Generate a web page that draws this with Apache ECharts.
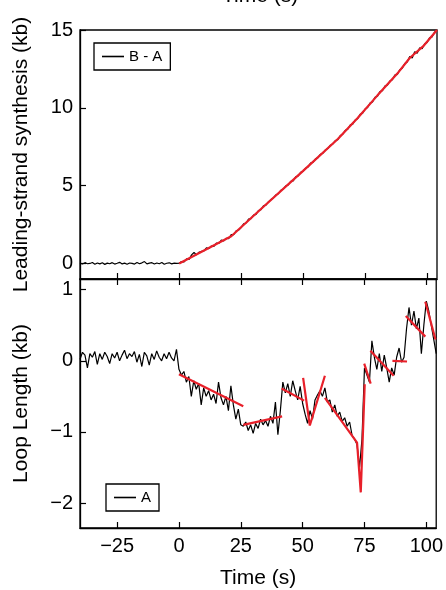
<!DOCTYPE html>
<html>
<head>
<meta charset="utf-8">
<script src="https://cdn.jsdelivr.net/npm/echarts@6/dist/echarts.min.js"></script>
<style>
  html, body { margin: 0; padding: 0; background: #fff; }
  #chart { width: 446px; height: 590px; }
</style>
</head>
<body>
<div id="chart"></div>
<script>
// sampling of the traces (s)
const tStart = -40;
const tStep = 1;

// leading-strand synthesis, B - A (kb), one value per second from -40 s
const synthBA = [
  0.02, -0.04, 0.05, -0.02, 0.0, 0.06, -0.05, 0.03, -0.03, 0.04,
  -0.06, 0.02, -0.02, 0.05, -0.04, 0.01, 0.07, -0.03, 0.02, -0.05,
  0.03, 0.0, -0.04, 0.06, -0.02, 0.04, 0.12, -0.03, 0.02, 0.05,
  -0.04, 0.03, -0.02, 0.06, -0.05, 0.01, 0.04, -0.03, 0.02, 0.0,
  0.02, 0.12, 0.1, 0.3, 0.25, 0.55, 0.7, 0.55, 0.72, 0.78,
  0.8, 1.0, 0.95, 1.12, 1.1, 1.3, 1.28, 1.5, 1.45, 1.62,
  1.6, 1.85, 1.85, 2.1, 2.15, 2.3, 2.55, 2.6, 2.85, 2.88,
  3.1, 3.15, 3.4, 3.45, 3.7, 3.75, 3.95, 4.1, 4.2, 4.4,
  4.48, 4.7, 4.78, 4.98, 5.05, 5.28, 5.3, 5.56, 5.62, 5.85,
  5.92, 6.12, 6.2, 6.45, 6.5, 6.72, 6.8, 7.02, 7.08, 7.3,
  7.38, 7.6, 7.68, 7.9, 7.95, 8.22, 8.3, 8.55, 8.62, 8.9,
  8.95, 9.22, 9.3, 9.58, 9.66, 9.92, 10.02, 10.3, 10.38, 10.68,
  10.75, 11.05, 11.1, 11.4, 11.45, 11.72, 11.8, 12.1, 12.15, 12.45,
  12.55, 12.85, 12.95, 13.3, 13.2, 13.6, 13.5, 13.85, 13.8, 14.1,
  14.2, 14.5, 14.55, 14.85, 14.98
];

// loop length, A (kb), one value per second from -40 s
const loopA = [
  0.02, 0.12, 0.08, -0.1, 0.1, 0.05, 0.13, -0.05, 0.1, 0.02,
  0.12, 0.06, -0.04, 0.1, 0.04, 0.12, 0.0, 0.08, 0.15, 0.03,
  0.1, 0.06, 0.13, -0.02, 0.09, -0.08, 0.12, 0.07, -0.06, 0.1,
  0.02, 0.14, 0.05, 0.0, 0.1, 0.03, 0.12, 0.04, 0.0, 0.16,
  -0.12, -0.2, -0.15, -0.3, -0.22, -0.5, -0.28, -0.4, -0.32, -0.62,
  -0.38, -0.5, -0.42, -0.55, -0.47, -0.6, -0.3, -0.52, -0.62, -0.5,
  -0.7, -0.35, -0.62, -0.82, -0.68, -0.9, -0.92, -0.86, -0.98, -0.9,
  -1.02, -0.88, -0.95, -0.82, -0.9, -0.84, -0.92, -0.78, -0.88, -0.58,
  -1.04, -0.7, -0.3, -0.45, -0.32, -0.5, -0.28, -0.42, -0.55, -0.36,
  -0.6, -0.75, -0.88, -0.7, -0.82, -0.55, -0.48, -0.42, -0.5, -0.38,
  -0.58, -0.55, -0.72, -0.62, -0.78, -0.72, -0.85, -0.8, -0.92, -0.86,
  -1.05, -1.1, -1.18, -1.5, -1.1, -0.1, -0.2, -0.3, 0.28, 0.05,
  -0.12, 0.1, -0.15, 0.08, -0.1, -0.3, -0.1, -0.2, 0.05, 0.18,
  -0.02, 0.05, 0.45, 0.75, 0.5, 0.7, 0.45, 0.6, 0.1, 0.5,
  0.84, 0.7, 0.5, 0.3, 0.1
];

// red fitted lines [t, kb]
const synthFit = [[0, 0], [21, 1.75], [33, 3.5], [50, 5.95], [64, 8.0], [72, 9.35], [80, 10.8], [88, 12.2], [93, 13.2], [98.7, 14.0], [104, 15.0]];
const loopFits = [
  [[0, -0.19], [26, -0.64]],
  [[26, -0.9], [41.7, -0.78]],
  [[41.5, -0.39], [50.6, -0.56]],
  [[50.2, -0.24], [52.9, -0.91], [59, -0.21]],
  [[59, -0.52], [72, -1.15], [73.5, -1.85], [75.1, -0.33]],
  [[74.9, -0.04], [77.5, -0.32]],
  [[77.4, 0.14], [86.8, -0.21]],
  [[86.3, 0.0], [92.2, -0.01]],
  [[91.7, 0.63], [99.6, 0.34]],
  [[99.6, 0.83], [103.7, 0.3]]
];

const xTicks = [-25, 0, 25, 50, 75, 100];
const synthTicks = [0, 5, 10, 15];
const loopTicks = [-2, -1, 0, 1];

const font = "'Liberation Sans', Arial, sans-serif";
const black = "#000";
const red = "#e8202a";

function toPairs(values) {
  return values.map((v, i) => [tStart + i * tStep, v]);
}
function minus(v) {
  return String(v).replace("-", "\u2212");
}

const chart = echarts.init(document.getElementById("chart"));

function xAxisFor(gridIndex, position, showLabel, name) {
  return {
    type: "value",
    gridIndex: gridIndex,
    position: position,
    min: -40,
    max: 104,
    name: name,
    nameLocation: "middle",
    nameGap: 40,
    nameTextStyle: { color: black, fontSize: 21, fontFamily: font },
    axisLine: { show: true, onZero: false, lineStyle: { color: black, width: 1.3 } },
    axisTick: { show: true, inside: true, length: 6, customValues: xTicks, lineStyle: { color: black, width: 1.2 } },
    axisLabel: { show: showLabel, customValues: xTicks, color: black, fontSize: 20, fontFamily: font, margin: 8, formatter: minus },
    splitLine: { show: false }
  };
}

function yAxisFor(gridIndex, min, max, ticks, name) {
  return {
    type: "value",
    gridIndex: gridIndex,
    min: min,
    max: max,
    name: name,
    nameLocation: "middle",
    nameGap: 48,
    nameTextStyle: { color: black, fontSize: 21, fontFamily: font },
    axisLine: { show: true, onZero: false, lineStyle: { color: black, width: 1.3 } },
    axisTick: { show: true, inside: true, length: 6, customValues: ticks, lineStyle: { color: black, width: 1.2 } },
    axisLabel: { customValues: ticks, color: black, fontSize: 20, fontFamily: font, margin: 7, formatter: minus },
    splitLine: { show: false }
  };
}

function legendAt(name, left, top) {
  return {
    data: [{ name: name, icon: "rect" }],
    left: left,
    top: top,
    orient: "vertical",
    padding: [6, 8, 6, 8],
    itemWidth: 22,
    itemHeight: 1.6,
    borderColor: black,
    borderWidth: 1.3,
    borderRadius: 0,
    textStyle: { color: black, fontSize: 15, fontFamily: font }
  };
}

const fitSeries = loopFits.map(seg => ({
  type: "line",
  xAxisIndex: 1,
  yAxisIndex: 1,
  symbol: "none",
  silent: true,
  z: 5,
  lineStyle: { color: red, width: 2.2 },
  data: seg
}));

const option = {
  animation: false,
  backgroundColor: "#fff",
  grid: [
    { left: 80, right: 9, top: 30, height: 249, show: true, borderColor: black, borderWidth: 1.3, backgroundColor: "transparent" },
    { left: 80, right: 9, top: 279, height: 250, show: true, borderColor: black, borderWidth: 1.3, backgroundColor: "transparent" }
  ],
  graphic: [
    {
      type: "text",
      left: 222,
      top: -14,
      style: { text: "Time (s)", font: "21px " + font, fill: black }
    }
  ],
  legend: [legendAt("B - A", 94, 43), legendAt("A", 106, 484)],
  xAxis: [
    xAxisFor(0, "bottom", false, ""),
    xAxisFor(1, "bottom", true, "Time (s)"),
    Object.assign(xAxisFor(1, "top", false, ""), { axisLine: { show: false, onZero: false } })
  ],
  yAxis: [
    yAxisFor(0, -1, 15, synthTicks, "Leading-strand synthesis (kb)"),
    yAxisFor(1, -2.35, 1.15, loopTicks, "Loop Length (kb)")
  ],
  series: [
    {
      name: "B - A",
      type: "line",
      xAxisIndex: 0,
      yAxisIndex: 0,
      symbol: "none",
      z: 3,
      lineStyle: { color: black, width: 1.2 },
      itemStyle: { color: black },
      data: toPairs(synthBA)
    },
    {
      type: "line",
      xAxisIndex: 0,
      yAxisIndex: 0,
      symbol: "none",
      silent: true,
      z: 5,
      lineStyle: { color: red, width: 2.2 },
      data: synthFit
    },
    {
      name: "A",
      type: "line",
      xAxisIndex: 1,
      yAxisIndex: 1,
      symbol: "none",
      z: 3,
      lineStyle: { color: black, width: 1.2 },
      itemStyle: { color: black },
      data: toPairs(loopA)
    }
  ].concat(fitSeries)
};

chart.setOption(option);
</script>
</body>
</html>
